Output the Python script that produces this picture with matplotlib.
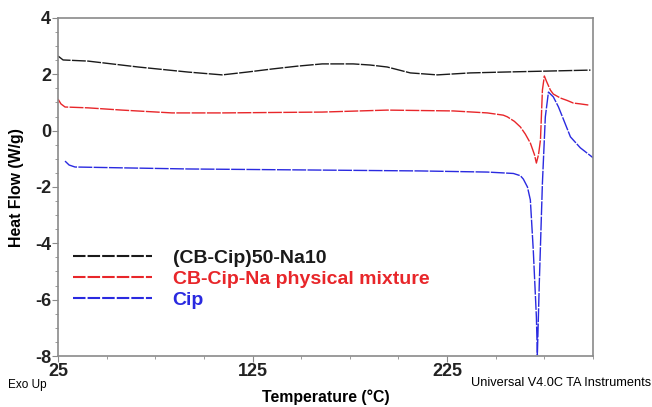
import matplotlib
matplotlib.use("Agg")
import matplotlib.pyplot as plt
from matplotlib.ticker import MultipleLocator, FixedLocator

plt.rcParams['font.family'] = ['Liberation Sans', 'DejaVu Sans']
plt.rcParams['axes.unicode_minus'] = False

# curves (temperature in C, heat flow in W/g)
t_black = [25.0, 27.6, 40.4, 66.2, 91.9, 109.4, 122.2, 135.1, 148.0, 160.8, 176.7, 185.5,
           194.2, 206.1, 220.0, 236.9, 253.9, 279.6, 298.7]
hf_black = [2.65, 2.51, 2.47, 2.26, 2.08, 1.98, 2.08, 2.19, 2.29, 2.37, 2.37, 2.33,
            2.26, 2.05, 1.98, 2.05, 2.08, 2.12, 2.15]

t_red = [25.0, 26.5, 28.6, 40.4, 57.9, 83.6, 109.4, 160.8, 194.2, 228.2, 245.7, 253.9,
         256.0, 259.6, 262.7, 265.2, 267.8, 269.9, 270.9, 272.0, 273.0, 274.0, 275.0,
         276.1, 278.1, 279.6, 283.2, 286.8, 289.9, 293.5, 297.6]
hf_red = [1.12, 0.95, 0.84, 0.81, 0.73, 0.63, 0.63, 0.66, 0.73, 0.70, 0.63, 0.55,
          0.49, 0.33, 0.13, -0.12, -0.44, -0.85, -1.15, -0.85, -0.33, 1.44, 1.94,
          1.75, 1.44, 1.30, 1.16, 1.07, 0.98, 0.95, 0.91]

t_blue = [28.6, 30.7, 33.7, 57.9, 91.9, 160.8, 211.2, 245.7, 253.9, 259.1, 262.7, 264.2,
          266.3, 267.8, 269.3, 270.9, 271.4, 272.4, 274.0, 275.5, 277.1, 279.6, 282.2,
          284.3, 288.4, 293.5, 300.2]
hf_blue = [-1.08, -1.22, -1.29, -1.32, -1.36, -1.40, -1.43, -1.47, -1.50, -1.52, -1.60,
           -1.72, -2.0, -2.46, -4.24, -6.61, -7.96, -5.41, -1.86, 0.49, 1.37, 1.20,
           0.85, 0.49, -0.22, -0.61, -0.97]

labels = ['(CB-Cip)50-Na10', 'CB-Cip-Na physical mixture', 'Cip']
colors = ['#1a1a1a', '#e8262a', '#2a2ae0']

fig = plt.figure(figsize=(6.52, 4.07), dpi=100)
ax = fig.add_axes([0.089, 0.1253, 0.8205, 0.8305])

ls = (0, (10, 1))
ax.plot(t_black, hf_black, color=colors[0], lw=1.0, ls=ls, label=labels[0])
ax.plot(t_red, hf_red, color=colors[1], lw=1.0, ls=ls, label=labels[1])
ax.plot(t_blue, hf_blue, color=colors[2], lw=1.0, ls=ls, label=labels[2])

ax.set_xlim(25, 300)
ax.set_ylim(-8, 4)
ax.xaxis.set_major_locator(FixedLocator([25, 125, 225]))
ax.xaxis.set_minor_locator(MultipleLocator(25))
ax.yaxis.set_major_locator(MultipleLocator(2))
ax.yaxis.set_minor_locator(MultipleLocator(0.5))

for sp in ax.spines.values():
    sp.set_color('#8a8a8a')
    sp.set_linewidth(1.2)
ax.tick_params(which='both', direction='out', color='#8a8a8a', labelsize=13, pad=1)
ax.tick_params(which='major', length=4)
ax.tick_params(which='minor', length=2.5)
for lab in ax.get_xticklabels() + ax.get_yticklabels():
    lab.set_fontweight('bold')
    lab.set_color('#222222')

leg = ax.legend(loc='upper left', bbox_to_anchor=(0.028, 0.315), frameon=False,
                borderaxespad=0, borderpad=0,
                handlelength=4.05, handletextpad=1.07, labelspacing=0.16,
                prop={'weight': 'bold', 'size': 14}, labelcolor='linecolor')
for h in leg.get_lines():
    h.set_linestyle((0, (6, 1)))
    h.set_linewidth(1.5)

fig.text(0.025, 0.54, 'Heat Flow (W/g)', rotation=90, ha='center', va='center',
         fontsize=11.4, fontweight='bold')
fig.text(0.5, 0.025, 'Temperature (°C)', ha='center', va='center',
         fontsize=11.4, fontweight='bold')
fig.text(0.012, 0.054, 'Exo Up', ha='left', va='center', fontsize=8.5)
fig.text(0.998, 0.058, 'Universal V4.0C TA Instruments', ha='right', va='center', fontsize=9.2)

fig.savefig('out.png', dpi=100)
